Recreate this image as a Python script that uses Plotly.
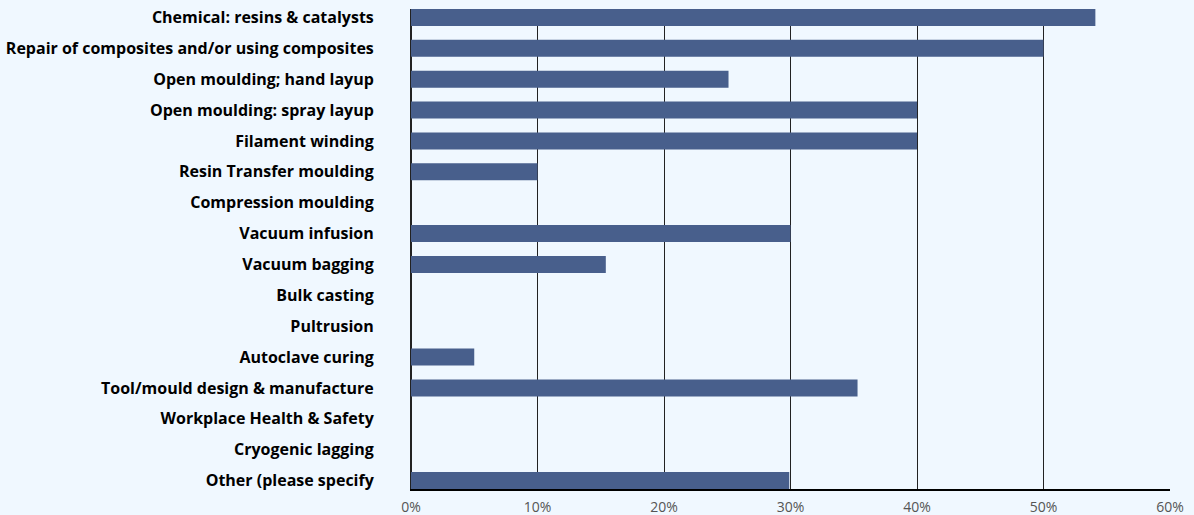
import plotly.graph_objects as go

categories = [
    "Chemical: resins & catalysts",
    "Repair of composites and/or using composites",
    "Open moulding; hand layup",
    "Open moulding: spray layup",
    "Filament winding",
    "Resin Transfer moulding",
    "Compression moulding",
    "Vacuum infusion",
    "Vacuum bagging",
    "Bulk casting",
    "Pultrusion",
    "Autoclave curing",
    "Tool/mould design & manufacture",
    "Workplace Health & Safety",
    "Cryogenic lagging",
    "Other (please specify",
]
values = [54.1, 50.0, 25.1, 40.0, 40.0, 10.0, 0, 30.0, 15.4, 0, 0, 5.0, 35.3, 0, 0, 29.9]
x_ticks = [0, 10, 20, 30, 40, 50, 60]

bar_color = "#485f8c"
bg = "#f0f8ff"
w = 0.55

fig = go.Figure(
    go.Bar(
        y=categories,
        x=values,
        orientation="h",
        marker=dict(color=bar_color, line=dict(width=0)),
        width=w,
        hoverinfo="x+y",
    )
)

fig.update_layout(
    width=1194,
    height=515,
    paper_bgcolor=bg,
    plot_bgcolor=bg,
    margin=dict(l=411, r=24, t=9, b=26, autoexpand=False),
    showlegend=False,
    font=dict(family="Open Sans", color="#000"),
)

fig.update_xaxes(
    range=[0, 60],
    tickvals=x_ticks,
    ticktext=[f"{v}%" for v in x_ticks],
    showgrid=True,
    gridcolor="#222",
    gridwidth=1,
    zeroline=True,
    zerolinecolor="#222",
    zerolinewidth=1,
    showline=True,
    linecolor="#000",
    linewidth=1.5,
    tickfont=dict(family="Open Sans", size=14, color="#555"),
    ticks="",
    ticklabelstandoff=4,
    automargin=False,
)

fig.update_yaxes(
    range=[len(categories) - 1 + w / 2, -w / 2],
    type="category",
    showgrid=False,
    zeroline=False,
    showline=True,
    linecolor="#222",
    linewidth=1,
    ticks="",
    ticklabelstandoff=33,
    automargin=False,
    tickfont=dict(family="Open Sans", size=16, color="#000", weight="bold"),
)

fig.write_html("out.html")
